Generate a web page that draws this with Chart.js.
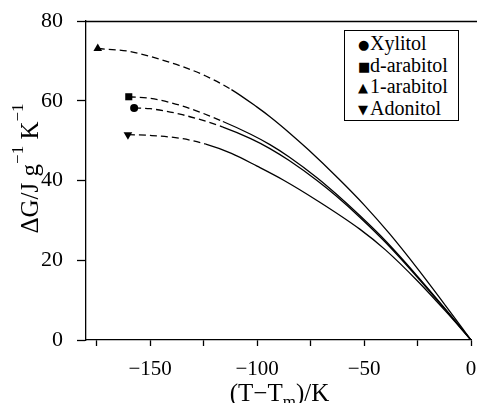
<!DOCTYPE html>
<html lang="en">
<head>
    <meta charset="UTF-8">
    <title>Free energy difference vs undercooling</title>
    <script src="https://cdn.jsdelivr.net/npm/chart.js"></script>
    <style>
        body {
            margin: 0;
            background: #fff;
        }
        .wrap {
            position: relative;
            width: 477px;
            height: 403px;
        }
        #legend {
            position: absolute;
            left: 344px;
            top: 30px;
            width: 115px;
            height: 91px;
            border: 1px solid #000;
            background: #fff;
            font-family: "Liberation Serif", "Times New Roman", serif;
            font-size: 20px;
            color: #000;
            padding-top: 2px;
            box-sizing: border-box;
        }
        #legend div {
            height: 21.7px;
            line-height: 21.7px;
            white-space: nowrap;
        }
        #legend .mark {
            display: inline-block;
            width: 10px;
            margin-left: 13px;
            margin-right: 2px;
            text-align: center;
            font-family: "DejaVu Sans", sans-serif;
            font-size: 13px;
            vertical-align: 1px;
        }
    </style>
</head>
<body>
<div class="wrap">
    <canvas id="chart" width="477" height="403"></canvas>
    <div id="legend"></div>
</div>
<script>
    // compounds and their curves: T - Tm (K) and dG values
    const compounds = ['Xylitol', 'd-arabitol', '1-arabitol', 'Adonitol'];
    const markers = ['●', '■', '▲', '▼'];

    const xylitolT = [-157.5, -150, -135, -116, -103, -94, -85, -72, -63, -52, -40, -26, -12, 0];
    const xylitolG = [58.2, 58.0, 56.5, 53.4, 50.5, 48.0, 45.0, 40.0, 36.1, 30.8, 24.5, 16.3, 7.6, 0];

    const dArabitolT = [-160, -150, -135, -116, -103, -94, -85, -72, -63, -52, -40, -26, -12, 0];
    const dArabitolG = [61.0, 60.6, 58.7, 54.8, 51.6, 49.0, 45.9, 40.7, 36.6, 31.2, 24.9, 16.6, 7.8, 0];

    const lArabitolT = [-174.5, -160, -150, -135, -124, -112, -100, -94, -85, -76, -62, -50, -38, -25, -12, 0];
    const lArabitolG = [73.1, 72.4, 71.1, 68.6, 66.2, 62.8, 58.4, 56.0, 52.0, 47.7, 40.5, 33.9, 26.6, 17.9, 8.7, 0];

    const adonitolT = [-160.4, -150, -135, -124, -112, -100, -88, -72, -52, -40, -25, -12, 0];
    const adonitolG = [51.5, 51.3, 50.5, 49.1, 46.8, 43.6, 40.2, 35.0, 27.8, 22.6, 14.8, 7.3, 0];

    // below these temperatures the curve is drawn dashed
    const dashedUntil = [-116, -116, -112, -124];

    const xTicks = [-175, -150, -125, -100, -75, -50, -25, 0];
    const yTicks = [0, 20, 40, 60, 80];

    const seriesT = [xylitolT, dArabitolT, lArabitolT, adonitolT];
    const seriesG = [xylitolG, dArabitolG, lArabitolG, adonitolG];
    const pointStyles = ['circle', 'rect', 'triangle', 'triangle'];
    const pointRotations = [0, 0, 0, 180];
    const pointSizes = [4, 5, 5, 5];

    const serif = '"Liberation Serif", "Times New Roman", serif';

    const datasets = compounds.map((name, i) => ({
        label: name,
        data: seriesT[i].map((t, j) => ({ x: t, y: seriesG[i][j] })),
        borderColor: '#000',
        backgroundColor: '#000',
        borderWidth: 1.3,
        cubicInterpolationMode: 'monotone',
        pointStyle: pointStyles[i],
        pointRotation: pointRotations[i],
        pointRadius: ctx => ctx.dataIndex === 0 ? pointSizes[i] : 0,
        pointHoverRadius: 0,
        pointBackgroundColor: '#000',
        pointBorderWidth: 0,
        segment: {
            borderDash: ctx => ctx.p1.parsed.x <= dashedUntil[i] ? [7, 4] : undefined
        }
    }));

    // draws a run of text pieces, some raised (sup) or lowered (sub)
    function drawRich(ctx, parts, size) {
        let w = 0;
        parts.forEach(p => {
            ctx.font = `${p.s ? Math.round(size * 0.68) : size}px ${serif}`;
            p.w = ctx.measureText(p.t).width;
            w += p.w;
        });
        let x = -w / 2;
        parts.forEach(p => {
            ctx.font = `${p.s ? Math.round(size * 0.68) : size}px ${serif}`;
            const dy = p.s === 'sup' ? -size * 0.62 : p.s === 'sub' ? size * 0.22 : 0;
            ctx.fillText(p.t, x, dy);
            x += p.w;
        });
    }

    // axis titles with real super/subscripts, plus the top frame line
    const frame = {
        id: 'frame',
        afterDraw(chart) {
            const { ctx, chartArea } = chart;
            ctx.save();
            ctx.strokeStyle = '#000';
            ctx.lineWidth = 1.3;
            ctx.beginPath();
            ctx.moveTo(chartArea.left, Math.round(chartArea.top) + 0.5);
            ctx.lineTo(chart.width, Math.round(chartArea.top) + 0.5);
            ctx.stroke();

            ctx.fillStyle = '#000';
            ctx.textBaseline = 'alphabetic';
            ctx.textAlign = 'left';

            ctx.save();
            ctx.translate((chartArea.left + chartArea.right) / 2 + 1, 401);
            drawRich(ctx, [
                { t: '(T\u2212T' }, { t: 'm', s: 'sub' }, { t: ')/K' }
            ], 25);
            ctx.restore();

            ctx.save();
            ctx.translate(38, (chartArea.top + chartArea.bottom) / 2 - 12);
            ctx.rotate(-Math.PI / 2);
            drawRich(ctx, [
                { t: '\u0394G/J g' }, { t: '\u22121', s: 'sup' }, { t: ' K' }, { t: '\u22121', s: 'sup' }
            ], 25);
            ctx.restore();

            ctx.restore();
        }
    };

    const fmt = v => v < 0 ? '\u2212' + Math.abs(v) : String(v);

    new Chart(document.getElementById('chart'), {
        type: 'line',
        data: { datasets },
        options: {
            responsive: false,
            animation: false,
            layout: { padding: { top: 21, right: 6, left: 0, bottom: 0 } },
            plugins: {
                legend: { display: false },
                tooltip: { enabled: false }
            },
            scales: {
                x: {
                    type: 'linear',
                    min: -180,
                    max: 0,
                    afterBuildTicks: scale => { scale.ticks = xTicks.map(v => ({ value: v })); },
                    afterFit: scale => {
                        scale.height = 63;
                        scale.paddingLeft = 0;
                        scale.paddingRight = 0;
                    },
                    grid: {
                        drawOnChartArea: false,
                        tickLength: 6,
                        tickColor: '#000',
                        tickWidth: 1.3
                    },
                    border: { color: '#000', width: 1.3 },
                    ticks: {
                        color: '#000',
                        font: { family: serif, size: 21 },
                        padding: 11,
                        maxRotation: 0,
                        autoSkip: false,
                        callback: v => v % 50 === 0 ? fmt(v) : ''
                    }
                },
                y: {
                    min: 0,
                    max: 80,
                    afterBuildTicks: scale => { scale.ticks = yTicks.map(v => ({ value: v })); },
                    afterFit: scale => {
                        scale.width = 86;
                        scale.paddingTop = 0;
                        scale.paddingBottom = 0;
                    },
                    grid: {
                        drawOnChartArea: false,
                        tickLength: 9,
                        tickColor: '#000',
                        tickWidth: 1.3
                    },
                    border: { color: '#000', width: 1.3 },
                    ticks: {
                        color: '#000',
                        font: { family: serif, size: 22 },
                        padding: 14,
                        callback: v => fmt(v)
                    }
                }
            }
        },
        plugins: [frame]
    });

    // legend box inside the plot, built from the same names
    document.getElementById('legend').innerHTML = compounds
        .map((name, i) => `<div><span class="mark">${markers[i]}</span>${name}</div>`)
        .join('');
</script>
</body>
</html>
